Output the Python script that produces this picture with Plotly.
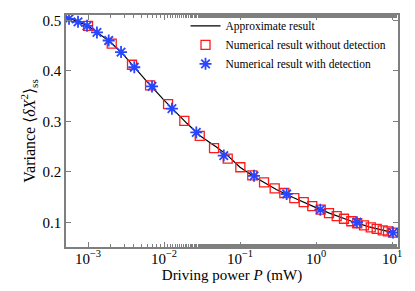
import plotly.graph_objects as go

# Approximate result (line)
line_P = [5.1e-4, 7e-4, 1e-3, 1.5e-3, 2e-3, 3e-3, 4e-3, 6e-3, 0.01, 0.015, 0.02, 0.03,
          0.05, 0.07, 0.1, 0.15, 0.2, 0.3, 0.5, 0.7, 1.0, 1.5, 2.0, 3.0, 5.0, 7.0, 10.0]
line_V = [0.507, 0.498, 0.489, 0.470, 0.456, 0.430, 0.408, 0.378, 0.342, 0.315, 0.296, 0.271,
          0.248, 0.231, 0.209, 0.191, 0.180, 0.165, 0.149, 0.140, 0.129, 0.118, 0.1105, 0.1015,
          0.091, 0.085, 0.080]

# Numerical result without detection (squares)
sq_P = [1.0e-3, 2.05e-3, 3.79e-3, 6.55e-3, 0.0113, 0.0185, 0.0295, 0.0455, 0.0689, 0.101,
        0.145, 0.207, 0.286, 0.383, 0.518, 0.689, 0.893, 1.153, 1.483, 1.872, 2.334, 2.912,
        3.49, 4.28, 5.25, 6.29, 7.55, 8.86, 10.3]
sq_V = [0.489, 0.454, 0.412, 0.371, 0.334, 0.301, 0.271, 0.247, 0.226, 0.209,
        0.193, 0.179, 0.167, 0.158, 0.148, 0.140, 0.132, 0.125, 0.118, 0.112, 0.107, 0.102,
        0.098, 0.094, 0.090, 0.087, 0.084, 0.082, 0.0795]

# Numerical result with detection (stars)
st_P = [5.62e-4, 7.38e-4, 9.7e-4, 1.31e-3, 1.87e-3, 2.72e-3, 4.06e-3, 6.95e-3, 0.0127,
        0.0266, 0.0611, 0.1528, 0.411, 1.14, 3.46, 10.3]
st_V = [0.503, 0.497, 0.489, 0.476, 0.460, 0.437, 0.407, 0.369, 0.325,
        0.278, 0.232, 0.192, 0.156, 0.125, 0.100, 0.0795]

xtick_vals = [1e-3, 1e-2, 1e-1, 1, 10]
xtick_text = ["10<sup>−3</sup>", "10<sup>−2</sup>", "10<sup>−1</sup>", "10<sup>0</sup>", "10<sup>1</sup>"]
ytick_vals = [0.1, 0.2, 0.3, 0.4, 0.5]
ytick_text = ["0.1", "0.2", "0.3", "0.4", "0.5"]

FONT = "Liberation Serif"
AX = "#7f7f7f"

fig = go.Figure()
fig.add_trace(go.Scatter(x=line_P, y=line_V, mode="lines", name="Approximate result",
                         line=dict(color="black", width=1.2)))
fig.add_trace(go.Scatter(x=sq_P, y=sq_V, mode="markers", name="Numerical result without detection",
                         marker=dict(symbol="square-open", size=9, color="#ff1a1a",
                                     line=dict(width=1.3, color="#ff1a1a"))))
fig.add_trace(go.Scatter(x=st_P, y=st_V, mode="markers", name="Numerical result with detection",
                         marker=dict(symbol="asterisk-open", size=10, color="#2846ff",
                                     line=dict(width=1.8, color="#2846ff"))))

fig.update_layout(
    width=415, height=291,
    margin=dict(l=58, r=25, t=7, b=52, autoexpand=False),
    paper_bgcolor="white", plot_bgcolor="white",
    font=dict(family=FONT, size=14, color="black"),
    showlegend=True,
    legend=dict(x=0.36, y=1.016, xanchor="left", yanchor="top",
                bgcolor="rgba(255,255,255,0)", borderwidth=0,
                font=dict(family=FONT, size=11.5), tracegroupgap=0, itemwidth=30),
    xaxis=dict(type="log", range=[-3.29, 1.079],
               tickvals=xtick_vals, ticktext=xtick_text,
               ticks="inside", ticklen=5, tickcolor=AX,
               minor=dict(ticks="inside", ticklen=3, tickcolor=AX, showgrid=False),
               showline=True, linecolor=AX, linewidth=1.5, mirror="ticks",
               showgrid=False, zeroline=False, ticklabelstandoff=-3,
               title=dict(text="Driving power <i>P</i> (mW)", font=dict(size=15), standoff=0),
               tickfont=dict(size=15)),
    yaxis=dict(range=[0.051, 0.5105],
               tickvals=ytick_vals, ticktext=ytick_text,
               ticks="inside", ticklen=5, tickcolor=AX,
               showline=True, linecolor=AX, linewidth=1.5, mirror="ticks",
               showgrid=False, zeroline=False,
               title=dict(text="Variance ⟨<i>δX</i><sup>2</sup>⟩<sub>ss</sub>", font=dict(size=16), standoff=3),
               tickfont=dict(size=15)),
)

fig.write_html("out.html")
